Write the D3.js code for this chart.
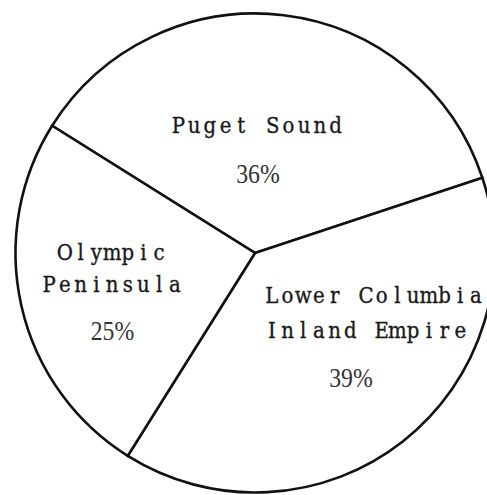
<!DOCTYPE html>
<html>
<head>
<meta charset="utf-8">
<script src="https://cdn.jsdelivr.net/npm/d3@7"></script>
<style>
  html, body { margin: 0; padding: 0; background: #fff; }
  svg { display: block; }
</style>
</head>
<body>
<svg id="chart" width="487" height="495"></svg>
<script>
// ---- data ----
const categories = ["Puget Sound", "Lower Columbia Inland Empire", "Olympic Peninsula"];
const values = [36, 39, 25];
const labelLines = [["Puget Sound"], ["Lower Columbia", "Inland Empire"], ["Olympic", "Peninsula"]];
const pctLabels = ["36%", "39%", "25%"];

// ---- layout ----
const cx = 255, cy = 253, R = 239.5;
const startDeg = -57.9;
const CELL = 15.7;   // typewriter character cell width
const SX = 0.92;     // horizontal squeeze of label glyphs

// label placement (offsets from pie centre)
const labelLayout = [
  { anchor: "middle", x: 2,    lines: [-120],       px: 3,      py: -70 },
  { anchor: "start",  x: 9,    lines: [50, 85],     px: 96,     py: 134 },
  { anchor: "middle", x: -143, lines: [6.5, 38.7],  px: -142.5, py: 87 }
];

const svg = d3.select("#chart");
const g = svg.append("g").attr("transform", `translate(${cx},${cy})`);

const pie = d3.pie().sort(null).value(d => d)
  .startAngle(startDeg * Math.PI / 180)
  .endAngle(startDeg * Math.PI / 180 + 2 * Math.PI);
const arc = d3.arc().innerRadius(0).outerRadius(R);
const arcs = pie(values);

g.selectAll("path.slice")
  .data(arcs)
  .join("path")
  .attr("class", "slice")
  .attr("d", arc)
  .attr("fill", "#fff")
  .attr("stroke", "#111")
  .attr("stroke-width", 2.6)
  .attr("stroke-linejoin", "miter");

const lab = g.selectAll("g.lab").data(arcs).join("g").attr("class", "lab");

lab.each(function(d, i) {
  const L = labelLayout[i];
  const sel = d3.select(this);
  labelLines[i].forEach((t, k) => {
    const n = t.length;
    const x0 = L.anchor === "middle" ? L.x - n * CELL / 2 : L.x;
    const txt = sel.append("text")
      .attr("transform", `scale(${SX},1)`)
      .attr("y", L.lines[k])
      .attr("text-anchor", "middle")
      .attr("font-family", "'DejaVu Serif', 'Liberation Serif', serif")
      .attr("font-size", 21.5)
      .attr("fill", "#1a1a1a")
      .attr("stroke", "#1a1a1a")
      .attr("stroke-width", 0.35);
    // monospaced typewriter layout: each character centred in its own cell
    txt.selectAll("tspan")
      .data(Array.from(t))
      .join("tspan")
      .attr("x", (c, j) => (x0 + j * CELL + CELL / 2) / SX)
      .text(c => c);
  });
  sel.append("text")
    .attr("transform", `translate(${L.px},${L.py}) scale(0.88,1)`)
    .attr("text-anchor", "middle")
    .attr("font-family", "'Liberation Serif', 'Times New Roman', serif")
    .attr("font-size", 27)
    .attr("fill", "#333")
    .text(pctLabels[i]);
});
</script>
</body>
</html>
